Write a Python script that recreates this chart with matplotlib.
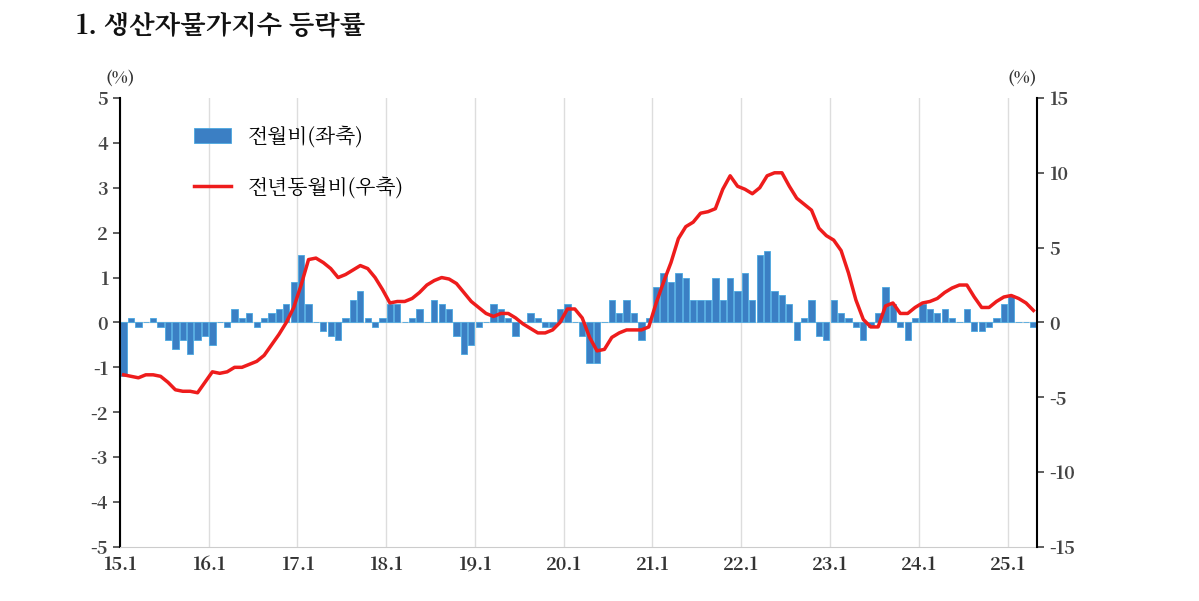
import matplotlib
matplotlib.use("Agg")
import matplotlib.pyplot as plt
from matplotlib import font_manager
import numpy as np

cjk = None
for f in font_manager.fontManager.ttflist:
    if 'CJK' in f.name and 'KR' in f.name:
        cjk = f.name
        break
if cjk is None:
    for f in font_manager.fontManager.ttflist:
        if 'CJK' in f.name:
            cjk = f.name
            break
if cjk is None:
    for p in font_manager.findSystemFonts():
        if 'CJK' in p:
            font_manager.fontManager.addfont(p)
            cjk = font_manager.FontProperties(fname=p).get_name()
            break
plt.rcParams['font.family'] = [cjk or 'Noto Sans CJK KR', 'DejaVu Sans']
plt.rcParams['axes.unicode_minus'] = False

mom = [  # 전월비 (%), Jan 2015 - Apr 2025
    -1.2, 0.1, -0.1, 0.0, 0.1, -0.1, -0.4, -0.6, -0.4, -0.7, -0.4, -0.3,
    -0.5, 0.0, -0.1, 0.3, 0.1, 0.2, -0.1, 0.1, 0.2, 0.3, 0.4, 0.9,
    1.5, 0.4, 0.0, -0.2, -0.3, -0.4, 0.1, 0.5, 0.7, 0.1, -0.1, 0.1,
    0.4, 0.4, 0.0, 0.1, 0.3, 0.0, 0.5, 0.4, 0.3, -0.3, -0.7, -0.5,
    -0.1, 0.0, 0.4, 0.3, 0.1, -0.3, 0.0, 0.2, 0.1, -0.1, -0.1, 0.3,
    0.4, 0.0, -0.3, -0.9, -0.9, 0.0, 0.5, 0.2, 0.5, 0.2, -0.4, 0.1,
    0.8, 1.1, 0.9, 1.1, 1.0, 0.5, 0.5, 0.5, 1.0, 0.5, 1.0, 0.7,
    1.1, 0.5, 1.5, 1.6, 0.7, 0.6, 0.4, -0.4, 0.1, 0.5, -0.3, -0.4,
    0.5, 0.2, 0.1, -0.1, -0.4, -0.1, 0.2, 0.8, 0.4, -0.1, -0.4, 0.1,
    0.4, 0.3, 0.2, 0.3, 0.1, 0.0, 0.3, -0.2, -0.2, -0.1, 0.1, 0.4,
    0.6, 0.0, 0.0, -0.1,
]
yoy = [  # 전년동월비 (%)
    -3.5, -3.6, -3.7, -3.5, -3.5, -3.6, -4.0, -4.5, -4.6, -4.6, -4.7, -4.0,
    -3.3, -3.4, -3.3, -3.0, -3.0, -2.8, -2.6, -2.2, -1.5, -0.8, 0.0, 1.0,
    2.5, 4.2, 4.3, 4.0, 3.6, 3.0, 3.2, 3.5, 3.8, 3.6, 3.0, 2.2,
    1.3, 1.4, 1.4, 1.6, 2.0, 2.5, 2.8, 3.0, 2.9, 2.6, 2.0, 1.4,
    1.0, 0.6, 0.4, 0.6, 0.6, 0.3, -0.1, -0.4, -0.7, -0.7, -0.5, 0.0,
    0.9, 0.9, 0.3, -1.0, -1.9, -1.8, -1.0, -0.7, -0.5, -0.5, -0.5, -0.3,
    1.3, 2.7, 4.0, 5.6, 6.4, 6.7, 7.3, 7.4, 7.6, 8.9, 9.8, 9.1,
    8.9, 8.6, 9.0, 9.8, 10.0, 10.0, 9.1, 8.3, 7.9, 7.5, 6.3, 5.8,
    5.5, 4.8, 3.3, 1.5, 0.2, -0.3, -0.3, 1.1, 1.3, 0.6, 0.6, 1.0,
    1.3, 1.4, 1.6, 2.0, 2.3, 2.5, 2.5, 1.7, 1.0, 1.0, 1.4, 1.7,
    1.8, 1.6, 1.3, 0.8,
]
xlabels = ['15.1', '16.1', '17.1', '18.1', '19.1', '20.1', '21.1', '22.1', '23.1', '24.1', '25.1']

n = len(mom)
x = np.arange(n) + 0.5

fig = plt.figure(figsize=(11.99, 6.01), dpi=100)
ax = fig.add_axes([0.100, 0.090, 0.765, 0.747])
ax2 = ax.twinx()

for i in range(len(xlabels)):
    ax.axvline(i * 12, color='#dddddd', lw=1, zorder=0)
ax.axhline(0, color='#dddddd', lw=1, zorder=0)

ax.bar(x, mom, width=0.85, color='#3b7fc4', edgecolor='#4aa8e0', linewidth=0.6,
       label='전월비(좌축)', zorder=2)
ax2.plot(x, yoy, color='#ee1c1c', lw=2.5, label='전년동월비(우축)', zorder=3)

ax.set_xlim(0, n)
ax.set_ylim(-5, 5)
ax2.set_ylim(-15, 15)
ax.set_yticks(range(-5, 6))
ax2.set_yticks(range(-15, 16, 5))
ax.set_xticks([i * 12 for i in range(len(xlabels))])
ax.set_xticklabels(xlabels)

for a in (ax, ax2):
    a.tick_params(labelsize=13, colors='#444444', length=5, width=1.2)
    for s in a.spines.values():
        s.set_visible(False)
ax.spines['left'].set_visible(True)
ax.spines['left'].set_linewidth(1.5)
ax.spines['bottom'].set_visible(True)
ax.spines['bottom'].set_color('#cccccc')
ax2.spines['right'].set_visible(True)
ax2.spines['right'].set_linewidth(1.5)
ax.tick_params(axis='x', length=0, pad=6, labelcolor='#333333')
for lab in ax.get_xticklabels() + ax.get_yticklabels() + ax2.get_yticklabels():
    lab.set_fontweight('bold')

ax.text(0, 5.35, '(%)', fontsize=12, fontweight='bold', ha='center', color='#333333')
ax.text(n, 5.35, '(%)', fontsize=12, fontweight='bold', ha='right', color='#333333')

h1, l1 = ax.get_legend_handles_labels()
h2, l2 = ax2.get_legend_handles_labels()
ax.legend(h1 + h2, l1 + l2, loc='upper left', bbox_to_anchor=(0.06, 0.98),
          frameon=False, fontsize=15, labelspacing=1.4, handlelength=1.8)

fig.text(0.063, 0.945, '1. 생산자물가지수 등락률', fontsize=19, fontweight='bold', color='#111111')

fig.savefig('out.png', dpi=100)
